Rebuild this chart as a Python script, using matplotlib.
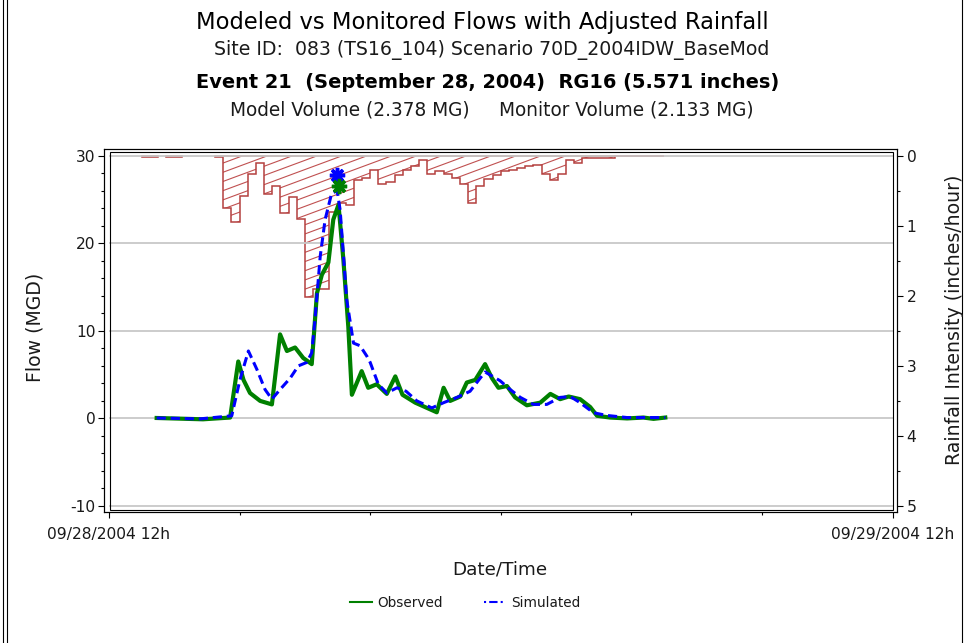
import numpy as np
import matplotlib
matplotlib.use("Agg")
import matplotlib.pyplot as plt
from matplotlib.path import Path
from matplotlib.patches import PathPatch, Rectangle
from matplotlib.collections import LineCollection
from matplotlib.lines import Line2D
from matplotlib.ticker import FixedLocator, MultipleLocator

plt.rcParams['font.family'] = ['DejaVu Sans']
plt.rcParams['axes.unicode_minus'] = False

# ---------------- data (hours after 09/28/2004 12:00) ----------------
obs_hours = [1.46, 2.88, 3.71, 3.96, 4.12, 4.32, 4.63, 4.99, 5.24, 5.45, 5.70, 5.95,
             6.21, 6.37, 6.52, 6.72, 6.87, 7.03, 7.18, 7.33, 7.44, 7.74, 7.94, 8.20,
             8.51, 8.77, 8.99, 9.38, 9.74, 10.04, 10.25, 10.45, 10.76, 10.96, 11.22,
             11.52, 11.73, 11.93, 12.19, 12.44, 12.80, 13.21, 13.52, 13.82, 14.08,
             14.43, 14.74, 14.95, 15.35, 15.87, 16.37, 16.68, 17.04]
obs_flow = [0.05, -0.1, 0.1, 6.5, 4.4, 2.9, 2.0, 1.6, 9.6, 7.7, 8.1, 6.9,
            6.2, 14.3, 16.4, 17.8, 22.7, 24.4, 18.1, 10.5, 2.7, 5.4, 3.5, 3.9,
            2.8, 4.8, 2.7, 1.8, 1.2, 0.7, 3.5, 2.0, 2.5, 4.1, 4.4,
            6.2, 4.6, 3.5, 3.7, 2.4, 1.5, 1.8, 2.8, 2.2, 2.5,
            2.2, 1.3, 0.3, 0.1, 0.0, 0.1, -0.05, 0.1]

sim_hours = [1.46, 2.79, 3.76, 4.01, 4.27, 4.53, 4.78, 4.99, 5.24, 5.55, 5.80, 6.06,
             6.21, 6.31, 6.47, 6.62, 6.82, 6.99, 7.08, 7.28, 7.49, 7.69, 7.90, 8.00,
             8.25, 8.51, 8.82, 9.10, 9.43, 9.89, 10.25, 10.66, 11.06, 11.37, 11.52,
             11.98, 12.29, 12.60, 13.00, 13.41, 13.82, 14.13, 14.43, 14.84, 15.25,
             15.87, 16.68, 17.04]
sim_flow = [0.05, -0.05, 0.3, 4.4, 7.7, 5.6, 3.3, 2.2, 3.3, 4.6, 6.0, 6.4,
            7.5, 11.3, 18.5, 22.7, 25.7, 26.0, 23.8, 13.6, 8.6, 8.3, 7.1, 6.4,
            3.9, 2.9, 3.5, 3.1, 2.0, 1.2, 1.8, 2.4, 3.1, 4.6, 5.3,
            4.3, 3.3, 2.4, 1.6, 1.6, 2.4, 2.5, 1.8, 0.65, 0.34,
            0.1, 0.1, 0.1]

obs_peak_hour, obs_peak_flow = 7.03, 26.5
sim_peak_hour, sim_peak_flow = 6.99, 27.8

rain_start_hour = 13.0 - 12.0      # first 15-minute interval starts 13:00
rain_step_hours = 0.25
nan = float('nan')
rain_intensity = [0.02, 0.02, nan, 0.02, 0.02, nan, nan, nan, nan, 0.02,
                  0.75, 0.95, 0.58, 0.26, 0.10, 0.55, 0.43, 0.82, 0.59, 0.91,
                  2.02, 1.90, 1.90, 0.80, 0.68, 0.71, 0.34, 0.32, 0.21, 0.41,
                  0.37, 0.27, 0.21, 0.15, 0.06, 0.26, 0.22, 0.26, 0.32, 0.41,
                  0.68, 0.43, 0.33, 0.27, 0.22, 0.21, 0.18, 0.15, 0.13, 0.26,
                  0.35, 0.26, 0.06, 0.10, 0.03, 0.03, 0.03, 0.03, 0.0, 0.0,
                  0.0, 0.0, 0.0, 0.0]

x_tick_labels = ["09/28/2004 12h", "09/29/2004 12h"]
title = "Modeled vs Monitored Flows with Adjusted Rainfall"
subtitle = "Site ID:  083 (TS16_104) Scenario 70D_2004IDW_BaseMod"
event_line = "Event 21  (September 28, 2004)  RG16 (5.571 inches)"
volume_line = "Model Volume (2.378 MG)     Monitor Volume (2.133 MG)"

TXT = '#1a1a1a'

# ---------------- layout ----------------
W, H = 964, 643
fig = plt.figure(figsize=(W / 100, H / 100), dpi=100)

def fx(px):
    return px / W

def fy(py):
    return (H - py) / H

ax_l, ax_r, ax_t, ax_b = 104, 897, 149, 512
ax = fig.add_axes([fx(ax_l), fy(ax_b), fx(ax_r - ax_l), (ax_b - ax_t) / H])
ax2 = ax.twinx()
ax.set_zorder(ax2.get_zorder() + 1)
ax.patch.set_visible(False)

pxh = (892.5 - 109) / 24.0
ax.set_xlim(-(109 - ax_l) / pxh, 24 + (ax_r - 892.5) / pxh)
pyu = (506.0 - 155.7) / 40.0
ax.set_ylim(-10 - (ax_b - 506.0) / pyu, 30 + (155.7 - ax_t) / pyu)
pyr = (506.0 - 155.7) / 5.0
ax2.set_ylim(5 + (ax_b - 506.0) / pyr, -(155.7 - ax_t) / pyr)

# gridlines
inner_l, inner_r = 110, 893
for g in [-10, 0, 10, 20, 30]:
    ax.axhline(g, xmin=(inner_l - ax_l) / (ax_r - ax_l), xmax=(inner_r - ax_l) / (ax_r - ax_l),
               color='#c8c8c8', lw=1.3, zorder=0)

# ---------------- rainfall hyetograph ----------------
rain = np.array(rain_intensity, dtype=float)
edges = rain_start_hour + rain_step_hours * np.arange(len(rain) + 1)
verts, codes = [], []
i = 0
while i < len(rain):
    if np.isnan(rain[i]):
        i += 1
        continue
    j = i
    while j < len(rain) and not np.isnan(rain[j]):
        j += 1
    poly = [(edges[i], 0.0)]
    for k in range(i, j):
        poly.append((edges[k], rain[k]))
        poly.append((edges[k + 1], rain[k]))
    poly.append((edges[j], 0.0))
    verts += poly + [poly[0]]
    codes += [Path.MOVETO] + [Path.LINETO] * (len(poly) - 1) + [Path.CLOSEPOLY]
    i = j
rain_path = Path(verts, codes)
rain_color = '#b4403f'
outline = PathPatch(rain_path, facecolor='none', edgecolor=rain_color, lw=1.1, zorder=2)
ax2.add_patch(outline)

# custom shallow hatch
slope = 0.37 * pxh / pyr          # data units per hour
spacing = 9.2 / pyr
cs = np.arange(-1.0, 8.0, spacing)
segs = [[(-1, c + slope * 1), (25, c - slope * 25)] for c in cs]
hatch = LineCollection(segs, colors='#c05050', linewidths=0.8, zorder=1)
ax2.add_collection(hatch)
hatch.set_clip_path(outline)

# ---------------- flows ----------------
ax.plot(obs_hours, obs_flow, color='#008000', lw=3.0, solid_joinstyle='round', zorder=3)
ax.plot(sim_hours, sim_flow, color='#0000ff', lw=2.2, dashes=(3, 1.6), zorder=4)
ax.plot([sim_peak_hour], [sim_peak_flow], marker=(8, 2, 0), color='#0000ff', ms=11, mew=2.5, zorder=5)
ax.plot([obs_peak_hour], [obs_peak_flow], marker=(8, 2, 0), color='#008000', ms=11, mew=2.5, zorder=6)

# ---------------- axes styling ----------------
for a in (ax, ax2):
    for s in a.spines.values():
        s.set_linewidth(0.8)
        s.set_color('black')

TICK_FS = 11.2
ax.yaxis.set_major_locator(FixedLocator([-10, 0, 10, 20, 30]))
ax.yaxis.set_minor_locator(MultipleLocator(2))
ax.tick_params(axis='y', which='major', length=4, width=0.8, pad=2, labelsize=TICK_FS, labelcolor=TXT)
ax.tick_params(axis='y', which='minor', length=2.2, width=0.8)

ax2.yaxis.set_major_locator(FixedLocator([0, 1, 2, 3, 4, 5]))
ax2.yaxis.set_minor_locator(MultipleLocator(0.5))
ax2.tick_params(axis='y', which='major', length=4, width=0.8, pad=3, labelsize=TICK_FS, labelcolor=TXT)
ax2.tick_params(axis='y', which='minor', length=2.2, width=0.8)

ax.xaxis.set_major_locator(FixedLocator([0, 24]))
ax.set_xticklabels(x_tick_labels)
ax.xaxis.set_minor_locator(FixedLocator([4, 8, 12, 16, 20]))
ax.tick_params(axis='x', which='major', length=4.5, width=0.8, pad=6, labelsize=TICK_FS, labelcolor=TXT)
ax.tick_params(axis='x', which='minor', length=2.2, width=0.8)

fig.text(fx(35), fy(327), "Flow (MGD)", fontsize=13.6, rotation=90, ha='center', va='center', color=TXT)
fig.text(fx(955), fy(320), "Rainfall Intensity (inches/hour)", fontsize=13.6, rotation=90,
         ha='center', va='center', color=TXT)
fig.text(fx(500), fy(570), "Date/Time", fontsize=13.2, ha='center', va='center', color=TXT)

# inner frame line (double border look)
fig.add_artist(Rectangle((fx(inner_l), fy(509.5)), fx(inner_r - inner_l), (509.5 - 151.5) / H,
                         transform=fig.transFigure, fill=False, edgecolor='black', lw=0.8, zorder=10))

# titles
fig.text(fx(482), fy(22), title, fontsize=16.3, ha='center', va='center', color='black')
fig.text(fx(492), fy(50), subtitle, fontsize=13.6, ha='center', va='center', color=TXT)
fig.text(fx(488), fy(82), event_line, fontsize=13.95, fontweight='bold', ha='center', va='center', color='black')
fig.text(fx(492), fy(110), volume_line, fontsize=13.35, ha='center', va='center', color=TXT)

# legend
handles = [Line2D([], [], color='#008000', lw=1.5),
           Line2D([], [], color='#0000ff', lw=1.5, dashes=(1, 1.5, 4, 1.5))]
fig.legend(handles, ["Observed", "Simulated"], loc='center', bbox_to_anchor=(fx(465), fy(603)),
           ncol=2, frameon=False, fontsize=9.8, handlelength=1.6, handletextpad=0.4, columnspacing=3.0,
           labelcolor=TXT)

# figure border
for xb in (2.5, 6.5, 961.5):
    fig.add_artist(Line2D([fx(xb), fx(xb)], [0, 1], transform=fig.transFigure, color='black', lw=0.8))

fig.savefig("out.png", dpi=100)
